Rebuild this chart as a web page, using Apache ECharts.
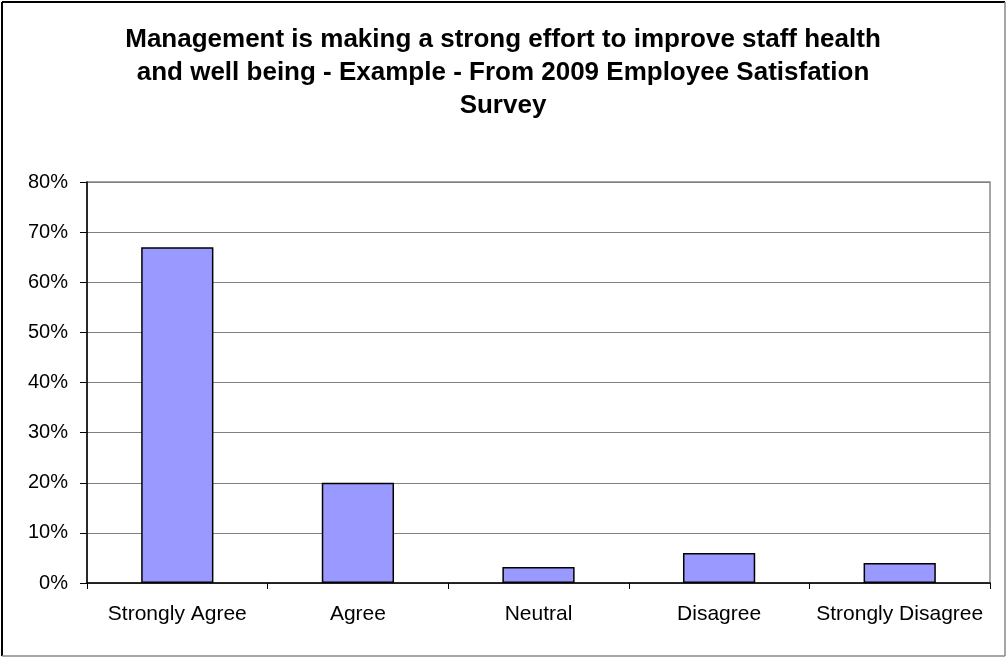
<!DOCTYPE html>
<html>
<head>
<meta charset="utf-8">
<script src="https://cdn.jsdelivr.net/npm/echarts@6/dist/echarts.min.js"></script>
<style>
  html, body { margin: 0; padding: 0; background: #fff; }
  #chart { width: 1006px; height: 657px; }
</style>
</head>
<body>
<div id="chart"></div>
<script>
// Survey responses, share of employees per answer (%)
const categories = ['Strongly Agree', 'Agree', 'Neutral', 'Disagree', 'Strongly Disagree'];
const shares = [67, 20, 3.2, 6, 4];
const yTicks = { min: 0, max: 80, interval: 10 };

const chart = echarts.init(document.getElementById('chart'));
chart.setOption({
  animation: false,
  title: {
    text: 'Management is making a strong effort to improve staff health\nand well being - Example - From 2009 Employee Satisfation\nSurvey',
    left: 'center',
    top: 18,
    textStyle: {
      fontFamily: 'Liberation Sans, Arial, sans-serif',
      fontWeight: 'bold',
      fontSize: 26,
      lineHeight: 33,
      color: '#000'
    }
  },
  graphic: [
    { type: 'line', shape: { x1: 2, y1: 2, x2: 2, y2: 656 }, style: { stroke: '#000', lineWidth: 2 } },
    { type: 'line', shape: { x1: 2, y1: 2, x2: 1005, y2: 2 }, style: { stroke: '#000', lineWidth: 2 } },
    { type: 'line', shape: { x1: 1005, y1: 2, x2: 1005, y2: 656 }, style: { stroke: '#888', lineWidth: 1.5 } },
    { type: 'line', shape: { x1: 2, y1: 656, x2: 1005, y2: 656 }, style: { stroke: '#888', lineWidth: 1.5 } }
  ],
  grid: {
    left: 87, right: 16, top: 182, bottom: 74,
    show: true, borderColor: '#888', borderWidth: 1.5, backgroundColor: '#fff'
  },
  xAxis: {
    type: 'category',
    data: categories,
    axisLine: { lineStyle: { color: '#000', width: 1.5 } },
    axisTick: { show: true, length: 6, lineStyle: { color: '#000' } },
    axisLabel: {
      color: '#000', fontSize: 21, margin: 21, interval: 0,
      fontFamily: 'Liberation Sans, Arial, sans-serif'
    }
  },
  yAxis: {
    type: 'value',
    min: yTicks.min, max: yTicks.max, interval: yTicks.interval,
    axisLine: { show: true, lineStyle: { color: '#000', width: 1.5 } },
    axisTick: { show: true, length: 7, lineStyle: { color: '#000' } },
    splitLine: { lineStyle: { color: '#808080', width: 1.2 } },
    axisLabel: {
      color: '#000', fontSize: 20, margin: 19,
      fontFamily: 'Liberation Sans, Arial, sans-serif',
      formatter: '{value}%'
    }
  },
  series: [{
    type: 'bar',
    data: shares,
    barWidth: '40%',
    itemStyle: { color: '#9999FF', borderColor: '#000', borderWidth: 1.5 }
  }]
});
</script>
</body>
</html>
